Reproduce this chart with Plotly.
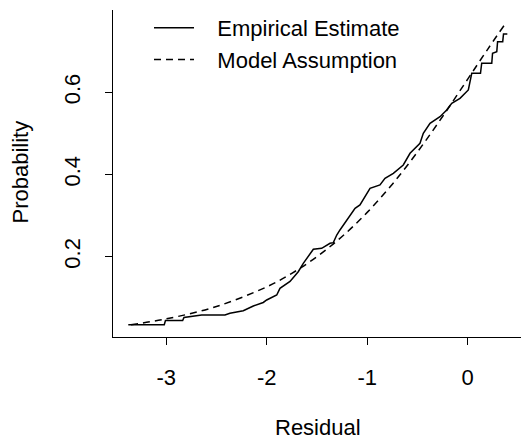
import plotly.graph_objects as go

# Empirical estimate (step-like curve)
emp_x = [-3.377, -3.019, -3.007, -2.836, -2.823, -2.647, -2.415, -2.366, -2.233, -2.133,
         -2.034, -2.000, -1.900, -1.868, -1.768, -1.686, -1.636, -1.586, -1.536, -1.453,
         -1.370, -1.337, -1.303, -1.271, -1.204, -1.171, -1.121, -1.072, -1.022, -0.972,
         -0.873, -0.823, -0.740, -0.641, -0.574, -0.475, -0.442, -0.375, -0.276, -0.209,
         -0.159, -0.077, 0.006, 0.040, 0.127, 0.139, 0.239, 0.247, 0.289, 0.297,
         0.348, 0.356, 0.394]
emp_y = [0.0345, 0.0345, 0.0448, 0.0448, 0.0521, 0.0582, 0.0582, 0.0623, 0.0686, 0.0800,
         0.0886, 0.0946, 0.1068, 0.1231, 0.1397, 0.1635, 0.1839, 0.2000, 0.2180, 0.2204,
         0.2326, 0.2341, 0.2528, 0.2650, 0.2893, 0.3015, 0.3178, 0.3258, 0.3460, 0.3664,
         0.3745, 0.3908, 0.4029, 0.4231, 0.4516, 0.4759, 0.5002, 0.5246, 0.5406, 0.5569,
         0.5732, 0.5854, 0.6056, 0.6462, 0.6462, 0.6706, 0.6706, 0.6949, 0.6988, 0.7231,
         0.7231, 0.7418, 0.7418]

# Model assumption (dashed curve)
model_x = [-3.35, -3.0, -2.5, -2.0, -1.75, -1.5, -1.25, -1.0, -0.75, -0.5, -0.25, 0.0, 0.2, 0.36]
model_y = [0.0345, 0.0486, 0.0788, 0.1266, 0.1595, 0.2000, 0.2491, 0.3078, 0.3765, 0.4548,
           0.5411, 0.6321, 0.7052, 0.7620]

x_ticks = [-3, -2, -1, 0]
x_ticktext = ["-3", "-2", "-1", "0"]
y_ticks = [0.2, 0.4, 0.6]
y_ticktext = ["0.2", "0.4", "0.6"]

FONT = "Liberation Sans, Arial, Helvetica, sans-serif"
GAP = "\u00a0\u00a0\u00a0"

fig = go.Figure()
fig.add_trace(go.Scatter(x=emp_x, y=emp_y, mode="lines", name=GAP + "Empirical Estimate",
                         line=dict(color="black", width=1.5)))
fig.add_trace(go.Scatter(x=model_x, y=model_y, mode="lines", name=GAP + "Model Assumption",
                         line=dict(color="black", width=1.5, dash="7px,5px", shape="spline")))

axis_common = dict(showline=True, linecolor="black", linewidth=1, showgrid=False,
                   zeroline=False, ticks="outside", ticklen=7, tickcolor="black",
                   tickwidth=1, tickfont=dict(family=FONT, size=22, color="black"))

fig.update_layout(
    width=521, height=442,
    margin=dict(l=113, r=0, t=10, b=105, pad=0),
    paper_bgcolor="white", plot_bgcolor="white",
    font=dict(family=FONT, size=22, color="black"),
    xaxis=dict(range=[-3.529, 0.530], tickvals=x_ticks, ticktext=x_ticktext,
               ticklabelstandoff=14, **axis_common),
    yaxis=dict(range=[0.0046, 0.8002], tickvals=y_ticks, ticktext=y_ticktext,
               tickangle=-90, ticklabelstandoff=16, **axis_common),
    showlegend=True,
    legend=dict(x=(149 - 113) / 408, y=(337 - 7) / 327, xanchor="left", yanchor="top",
                bgcolor="rgba(0,0,0,0)", borderwidth=0,
                font=dict(family=FONT, size=22, color="black"), itemwidth=40),
    annotations=[
        dict(text="Residual", xref="paper", yref="paper", x=(318 - 113) / 408,
             y=(337 - 427) / 327, xanchor="center", yanchor="middle", showarrow=False,
             font=dict(family=FONT, size=22, color="black")),
        dict(text="Probability", xref="paper", yref="paper", x=(20 - 113) / 408,
             y=(337 - 172.5) / 327, xanchor="center", yanchor="middle", showarrow=False,
             textangle=-90, font=dict(family=FONT, size=22, color="black")),
    ],
)

fig.write_html("out.html", config={"displayModeBar": False},
               post_script="document.body.style.margin='0';document.body.style.overflow='hidden';")
